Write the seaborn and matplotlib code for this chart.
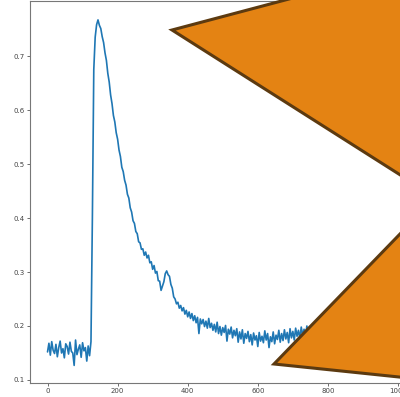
import numpy as np
import pandas as pd
import matplotlib
matplotlib.use("Agg")
import matplotlib.pyplot as plt
from matplotlib.patches import Polygon
import seaborn as sns

# sample spacing of the recorded signal (x units)
step = 4

signal = [
    # baseline 0..124
    0.152, 0.168, 0.146, 0.171, 0.155, 0.149, 0.166, 0.143, 0.160, 0.172,
    0.150, 0.158, 0.141, 0.167, 0.162, 0.148, 0.170, 0.153, 0.150, 0.127,
    0.174, 0.147, 0.157, 0.165, 0.142, 0.169, 0.154, 0.160, 0.135, 0.163,
    0.145, 0.171,
    # rise + peak + decay
    0.400, 0.675, 0.735, 0.758, 0.767, 0.757, 0.751, 0.736, 0.725, 0.706,
    0.692, 0.668, 0.652, 0.628, 0.612, 0.590, 0.578, 0.558, 0.546, 0.526,
    0.514, 0.494, 0.486, 0.470, 0.461, 0.444, 0.437, 0.419, 0.411, 0.395,
    0.390, 0.375, 0.371, 0.356, 0.354, 0.342, 0.343, 0.331, 0.337, 0.326,
    0.331, 0.317, 0.319, 0.305, 0.312, 0.298, 0.301, 0.284, 0.283, 0.266,
    0.274, 0.282, 0.297, 0.302, 0.295, 0.292, 0.277, 0.270, 0.254, 0.250,
    0.241, 0.244, 0.233, 0.238, 0.228, 0.234, 0.222, 0.229, 0.217, 0.226,
    0.214, 0.223, 0.210, 0.219, 0.206, 0.216, 0.186, 0.213, 0.204, 0.212,
    0.199, 0.209, 0.196, 0.214, 0.197, 0.205, 0.192, 0.203, 0.189, 0.207,
    0.186, 0.199, 0.183, 0.197, 0.188, 0.201, 0.172, 0.194, 0.185, 0.198,
    0.178, 0.192, 0.182, 0.195, 0.170, 0.189, 0.176, 0.193, 0.168, 0.186,
    0.177, 0.190, 0.171, 0.184, 0.165, 0.187, 0.174, 0.182, 0.162, 0.188,
    0.172, 0.181, 0.169, 0.191, 0.174, 0.186, 0.160, 0.180, 0.171, 0.189,
    0.167, 0.183, 0.175, 0.192, 0.170, 0.186, 0.173, 0.193, 0.176, 0.188,
    0.169, 0.195, 0.178, 0.190, 0.174, 0.196, 0.181, 0.192, 0.177, 0.198,
    0.183, 0.194, 0.179, 0.200, 0.184, 0.195, 0.181, 0.197, 0.186, 0.193,
    0.180, 0.198, 0.185, 0.194, 0.182, 0.199, 0.187, 0.195,
    # tail 800..996
    0.183, 0.198, 0.186, 0.194, 0.181, 0.200, 0.188, 0.193, 0.179, 0.197,
    0.185, 0.196, 0.182, 0.199, 0.187, 0.192, 0.180, 0.198, 0.186, 0.195,
    0.183, 0.201, 0.188, 0.194, 0.181, 0.197, 0.185, 0.193, 0.179, 0.199,
    0.187, 0.196, 0.182, 0.198, 0.186, 0.194, 0.180, 0.200, 0.188, 0.193,
    0.184, 0.197, 0.185, 0.195, 0.182, 0.199, 0.187, 0.194, 0.181, 0.196,
]

x_ticks = [0, 200, 400, 600, 800, 1000]
y_ticks = [0.1, 0.2, 0.3, 0.4, 0.5, 0.6, 0.7]

df = pd.DataFrame({"x": np.arange(len(signal)) * step, "y": signal})

sns.set_theme(style="ticks")
plt.rcParams["font.family"] = ["DejaVu Sans"]

W, H = 400, 397
fig = plt.figure(figsize=(W / 100, H / 100), dpi=100)
ax = fig.add_axes([30 / W, 14 / H, (415.5 - 30) / W, (396 - 14) / H])

sns.lineplot(data=df, x="x", y="y", ax=ax, color="#1f77b4", linewidth=1.2)

ax.set_xlim(-50, 1050)
ax.set_ylim(0.0944, 0.802)
ax.set_xticks(x_ticks)
ax.set_yticks(y_ticks)
ax.set_xticklabels([str(t) for t in x_ticks])
ax.set_yticklabels([f"{t:.1f}" for t in y_ticks])
ax.set_xlabel("")
ax.set_ylabel("")
ax.tick_params(axis="both", labelsize=5, length=2.2, width=0.6, pad=1.5,
               colors="#555555", labelcolor="#444444")
for s in ax.spines.values():
    s.set_color("#777777")
    s.set_linewidth(0.8)

def px(points):
    return [(a / W, 1 - b / H) for a, b in points]

tri1 = [(172, 30), (572, -76), (572, 284)]
tri2 = [(274, 364), (524, 106), (524, 390)]
for tri in (tri1, tri2):
    fig.patches.append(Polygon(px(tri), closed=True, transform=fig.transFigure,
                               facecolor="#E48313", edgecolor="#5C3A10",
                               linewidth=2.2, joinstyle="miter", zorder=10))

fig.savefig("out.png", dpi=100)
